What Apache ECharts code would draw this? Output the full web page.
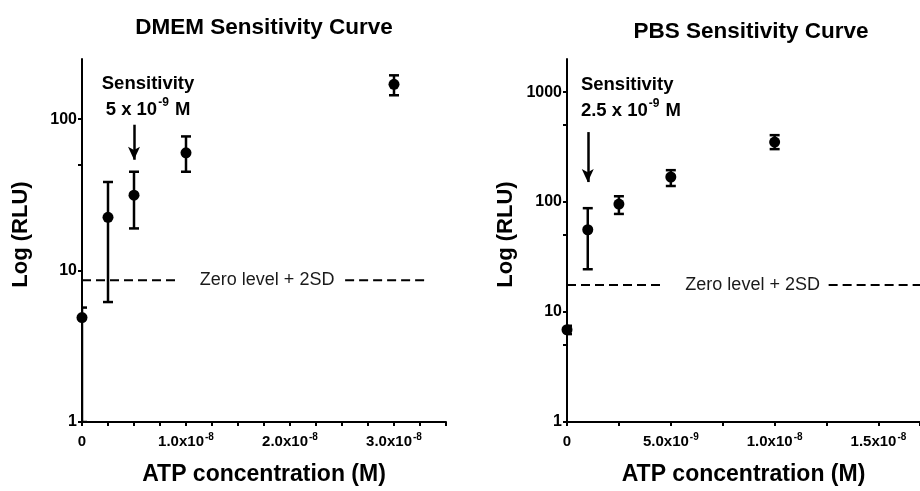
<!DOCTYPE html>
<html>
<head>
<meta charset="utf-8">
<script src="https://cdn.jsdelivr.net/npm/echarts@6/dist/echarts.min.js"></script>
<style>
  html, body { margin: 0; padding: 0; background: #fff; }
  #chart { width: 920px; height: 491px; }
</style>
</head>
<body>
<div id="chart"></div>
<script>
// DMEM panel
const dmemConc = [0, 2.5e-9, 5e-9, 1e-8, 3e-8];
const dmemMean = [4.9, 22.5, 31.5, 60, 170];
const dmemLow = [1, 6.2, 19, 45, 144];
const dmemHigh = [5.7, 38.5, 45, 77, 195];
const dmemZeroLevel = 8.65;

// PBS panel
const pbsConc = [0, 1e-9, 2.5e-9, 5e-9, 1e-8];
const pbsMean = [6.9, 56, 96, 169, 351];
const pbsLow = [6.3, 24.5, 78, 140, 303];
const pbsHigh = [7.5, 88, 113, 195, 406];
const pbsZeroLevel = 17.6;

// tick labels
const dmemXLabels = [0, 1e-8, 2e-8, 3e-8];
const pbsXLabels = [0, 5e-9, 1e-8, 1.5e-8];
const dmemYLabels = [1, 10, 100];
const dmemYTicks = [1, 5, 10, 50, 100];
const pbsYLabels = [1, 10, 100, 1000];
const pbsYTicks = [1, 5, 10, 50, 100, 500, 1000];

const FONT = "'Liberation Sans', Arial, sans-serif";
const INK = '#000';

// "1.0x10^-8" style labels
function sciLabel(v) {
  if (v === 0) return '{n|0}';
  const exp = Math.floor(Math.log10(v) + 1e-9);
  const mant = (v / Math.pow(10, exp)).toFixed(1);
  return '{n|' + mant + 'x10}{s|' + exp + '}';
}

const sciRich = {
  n: { fontFamily: FONT, fontSize: 15, fontWeight: 'bold', color: INK, lineHeight: 20 },
  s: { fontFamily: FONT, fontSize: 10, fontWeight: 'bold', color: INK, verticalAlign: 'top', lineHeight: 12, padding: [0, 0, 0, 1] }
};

function xAxisFor(gridIndex, max, interval, labels) {
  return {
    type: 'value', gridIndex, min: 0, max, interval,
    name: 'ATP concentration (M)', nameLocation: 'middle', nameGap: 41,
    nameTextStyle: { fontFamily: FONT, fontSize: 23, fontWeight: 'bold', color: INK },
    axisLine: { show: true, onZero: false, lineStyle: { color: INK, width: 2 } },
    axisTick: { show: true, length: 4, lineStyle: { color: INK, width: 2 } },
    axisLabel: { customValues: labels, formatter: sciLabel, rich: sciRich, margin: 10 },
    splitLine: { show: false }
  };
}

function yAxisFor(gridIndex, max, ticks, labels) {
  return {
    type: 'log', logBase: 10, gridIndex, min: 1, max,
    name: 'Log (RLU)', nameLocation: 'middle', nameGap: 50,
    nameTextStyle: { fontFamily: FONT, fontSize: 22, fontWeight: 'bold', color: INK, padding: [0, 0, 0, 12] },
    axisLine: { show: true, lineStyle: { color: INK, width: 2 } },
    axisTick: { show: true, length: 4, customValues: ticks, lineStyle: { color: INK, width: 2 } },
    axisLabel: { customValues: labels, formatter: v => String(Math.round(v)),
      fontFamily: FONT, fontSize: 16, fontWeight: 'bold', color: INK, margin: 5 },
    splitLine: { show: false }
  };
}

function errorBars(idx, conc, low, high) {
  return {
    type: 'custom', xAxisIndex: idx, yAxisIndex: idx, clip: true, z: 3,
    data: conc.map((c, i) => [c, low[i], high[i]]),
    renderItem(params, api) {
      const x = api.value(0);
      const pLo = api.coord([x, api.value(1)]);
      const pHi = api.coord([x, api.value(2)]);
      const w = 5;
      const st = { stroke: '#000', lineWidth: 2.5 };
      return {
        type: 'group',
        children: [
          { type: 'line', shape: { x1: pHi[0], y1: pHi[1], x2: pLo[0], y2: pLo[1] }, style: st },
          { type: 'line', shape: { x1: pHi[0] - w, y1: pHi[1], x2: pHi[0] + w, y2: pHi[1] }, style: st },
          { type: 'line', shape: { x1: pLo[0] - w, y1: pLo[1], x2: pLo[0] + w, y2: pLo[1] }, style: st }
        ]
      };
    }
  };
}

function points(idx, conc, mean) {
  return {
    type: 'scatter', xAxisIndex: idx, yAxisIndex: idx, clip: false, z: 4,
    symbol: 'circle', symbolSize: 11,
    itemStyle: { color: '#000', opacity: 1 },
    data: conc.map((c, i) => [c, mean[i]])
  };
}

function dashSegment(idx, x0, x1, y) {
  return {
    type: 'line', xAxisIndex: idx, yAxisIndex: idx, symbol: 'none', silent: true,
    lineStyle: { color: INK, width: 2, type: [9, 5] },
    data: [[x0, y], [x1, y]]
  };
}

function textAt(idx, x, y, text, position, rich) {
  return {
    type: 'scatter', xAxisIndex: idx, yAxisIndex: idx, symbolSize: 0, silent: true, clip: false,
    itemStyle: { color: '#000', opacity: 1 },
    data: [[x, y]],
    label: { show: true, position, distance: 0, formatter: text, rich,
      fontFamily: FONT, fontSize: 18, color: '#1a1a1a', textBorderWidth: 0, opacity: 1 }
  };
}

function arrow(idx, x, yFrom, yTo) {
  return {
    type: 'line', xAxisIndex: idx, yAxisIndex: idx, data: [], silent: true,
    markLine: {
      silent: true, symbol: ['none', 'arrow'], symbolSize: [9, 13],
      label: { show: false },
      lineStyle: { color: '#000', width: 2.5, type: 'solid', opacity: 1 },
      data: [[{ coord: [x, yFrom] }, { coord: [x, yTo] }]]
    }
  };
}

const sensRich = {
  b: { fontFamily: FONT, fontSize: 18.5, fontWeight: 'bold', color: INK, lineHeight: 26 },
  s: { fontFamily: FONT, fontSize: 12, fontWeight: 'bold', color: INK, verticalAlign: 'top', lineHeight: 15, padding: [0, 1, 0, 1] }
};

const option = {
  backgroundColor: '#fff',
  animation: false,
  title: [
    { text: 'DMEM Sensitivity Curve', left: 259, top: 11, textAlign: 'center',
      textStyle: { fontFamily: FONT, fontSize: 22.5, fontWeight: 'bold', color: INK } },
    { text: 'PBS Sensitivity Curve', left: 746, top: 15, textAlign: 'center',
      textStyle: { fontFamily: FONT, fontSize: 22.5, fontWeight: 'bold', color: INK } }
  ],
  grid: [
    { left: 82, top: 59, width: 364, height: 364 },
    { left: 567, top: 59, width: 353, height: 364 }
  ],
  xAxis: [
    xAxisFor(0, 3.5e-8, 0.25e-8, dmemXLabels),
    xAxisFor(1, 1.7e-8, 2.5e-9, pbsXLabels)
  ],
  yAxis: [
    yAxisFor(0, 250, dmemYTicks, dmemYLabels),
    yAxisFor(1, 2000, pbsYTicks, pbsYLabels)
  ],
  series: [
    errorBars(0, dmemConc, dmemLow, dmemHigh),
    points(0, dmemConc, dmemMean),
    dashSegment(0, 0, 0.94e-8, dmemZeroLevel),
    dashSegment(0, 2.53e-8, 3.31e-8, dmemZeroLevel),
    textAt(0, 1.78e-8, dmemZeroLevel, 'Zero level + 2SD', 'inside'),
    textAt(0, 0.635e-8, 141, '{b|Sensitivity}\n{b|5 x 10}{s|-9}{b| M}', 'inside', sensRich),
    arrow(0, 5e-9, 92, 54),

    errorBars(1, pbsConc, pbsLow, pbsHigh),
    points(1, pbsConc, pbsMean),
    dashSegment(1, 0, 0.46e-8, pbsZeroLevel),
    dashSegment(1, 1.26e-8, 1.7e-8, pbsZeroLevel),
    textAt(1, 0.894e-8, pbsZeroLevel, 'Zero level + 2SD', 'inside'),
    textAt(1, 0.67e-9, 884, '{b|Sensitivity}\n{b|2.5 x 10}{s|-9}{b| M}', 'right', sensRich),
    arrow(1, 1e-9, 433, 152)
  ]
};

const chart = echarts.init(document.getElementById('chart'));
chart.setOption(option);
</script>
</body>
</html>
